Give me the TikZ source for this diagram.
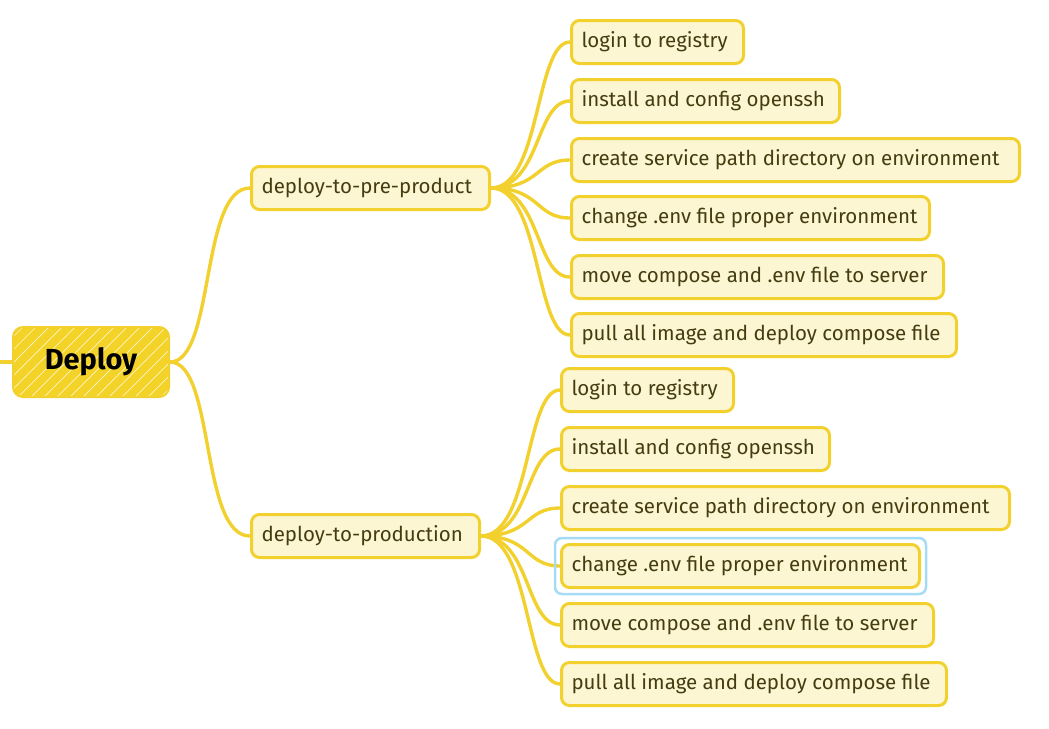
\documentclass[tikz,border=0pt]{standalone}
\usepackage{fontspec}
\setmainfont{Fira Sans}
\usetikzlibrary{fit,backgrounds}
\definecolor{ybord}{HTML}{F2D12E}
\definecolor{rootfill}{HTML}{F3D327}
\definecolor{lfill}{HTML}{FDF6D3}
\definecolor{ltext}{HTML}{453D10}
\definecolor{hl}{HTML}{A6DBF4}
\begin{document}
\begin{tikzpicture}[x=1pt,y=-1pt,
  rootbox/.style={draw=ybord, line width=2pt, fill=rootfill, rounded corners=10pt,
    minimum width=156pt, minimum height=70pt, inner sep=0pt,
    font=\fontsize{29}{32}\selectfont\bfseries, text=black,
    path picture={\foreach \k in {0,...,16}
      \draw[white, line width=0.7pt, opacity=0.75]
        ([xshift=\k*13pt-60pt]path picture bounding box.south west) -- ++(75pt,75pt);}},
  midbox/.style={draw=ybord, line width=3pt, fill=lfill, rounded corners=8pt, anchor=west,
    minimum height=43pt, inner xsep=10pt, inner ysep=0pt, text=ltext,
    font=\fontsize{20.5}{22}\selectfont},
  leaf/.style={midbox},
  link/.style={draw=ybord, line width=3.4pt, line cap=round},
  sel/.style={draw=hl, line width=2.5pt, rounded corners=7pt, inner sep=5pt}]
\useasboundingbox (0,0) rectangle (1049,728);

\node[rootbox] (root) at (91,362) {Deploy};
\coordinate (stub) at (0,362);

\node[midbox] (m1) at (250,188) {\makebox[218pt][l]{deploy-to-pre-product}};
\node[midbox] (m2) at (250,536) {\makebox[208pt][l]{deploy-to-production}};

\node[leaf] (a1) at (570,42)  {\makebox[152pt][l]{login to registry}};
\node[leaf] (a2) at (570,101) {\makebox[248pt][l]{install and config openssh}};
\node[leaf] (a3) at (570,160) {\makebox[428pt][l]{create service path directory on environment}};
\node[leaf] (a4) at (570,218) {\makebox[338pt][l]{change .env file proper environment}};
\node[leaf] (a5) at (570,277) {\makebox[352pt][l]{move compose and .env file to server}};
\node[leaf] (a6) at (570,335) {\makebox[365pt][l]{pull all image and deploy compose file}};

\node[leaf] (b1) at (560,390) {\makebox[152pt][l]{login to registry}};
\node[leaf] (b2) at (560,449) {\makebox[248pt][l]{install and config openssh}};
\node[leaf] (b3) at (560,508) {\makebox[428pt][l]{create service path directory on environment}};
\node[leaf] (b4) at (560,566) {\makebox[338pt][l]{change .env file proper environment}};
\node[leaf] (b5) at (560,625) {\makebox[352pt][l]{move compose and .env file to server}};
\node[leaf] (b6) at (560,684) {\makebox[365pt][l]{pull all image and deploy compose file}};

\node[sel, fit=(b4)] (selbox) {};

\begin{scope}[on background layer]
  \draw[link] (stub) -- (root.west);
  \draw[link] (root.east) .. controls +(45,0) and +(-50,0) .. (m1.west);
  \draw[link] (root.east) .. controls +(45,0) and +(-50,0) .. (m2.west);
  \foreach \n in {a1,a2,a3,a4,a5,a6}
    \draw[link] (m1.east) .. controls +(50,0) and +(-35,0) .. (\n.west);
  \foreach \n in {b1,b2,b3,b4,b5,b6}
    \draw[link] (m2.east) .. controls +(50,0) and +(-35,0) .. (\n.west);
\end{scope}
\end{tikzpicture}
\end{document}
